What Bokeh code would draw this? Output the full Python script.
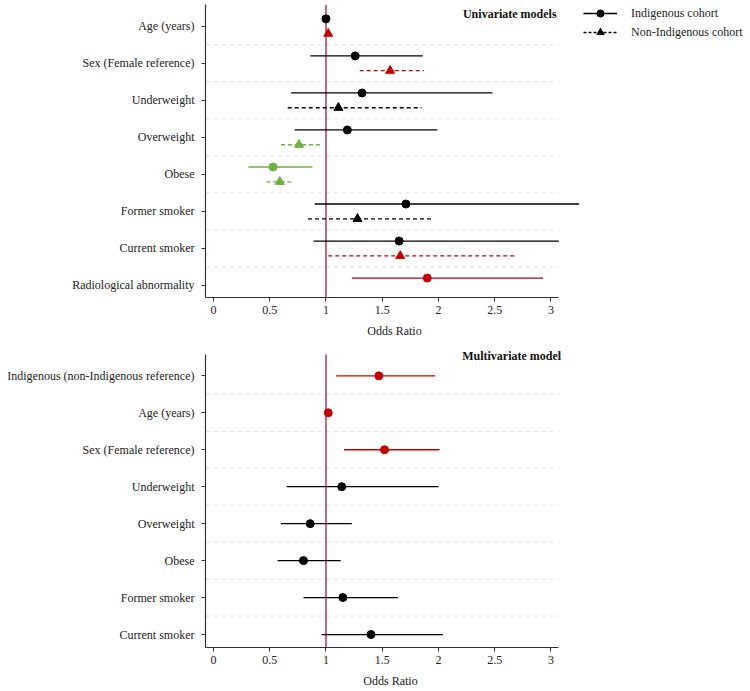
from bokeh.plotting import figure
from bokeh.models import (ColumnDataSource, FixedTicker, Legend, LegendItem, Label)
from bokeh.layouts import column
from bokeh.embed import file_html
from bokeh.resources import INLINE

# ---------------- data ----------------
uni_labels = ["Age (years)", "Sex (Female reference)", "Underweight", "Overweight",
              "Obese", "Former smoker", "Current smoker", "Radiological abnormality"]
# Indigenous cohort (univariate)
ind_or = [1.00, 1.26, 1.32, 1.19, 0.53, 1.71, 1.65, 1.90]
ind_lo = [0.99, 0.86, 0.69, 0.72, 0.31, 0.90, 0.89, 1.23]
ind_hi = [1.01, 1.86, 2.48, 1.99, 0.88, 3.25, 3.07, 2.93]
ind_col = ["black", "black", "black", "black", "green", "black", "black", "red"]
# Non-Indigenous cohort (univariate); Radiological abnormality not available
non_labels = ["Age (years)", "Sex (Female reference)", "Underweight", "Overweight",
              "Obese", "Former smoker", "Current smoker"]
non_or = [1.02, 1.57, 1.11, 0.76, 0.59, 1.28, 1.66]
non_lo = [1.01, 1.30, 0.66, 0.60, 0.47, 0.84, 1.02]
non_hi = [1.03, 1.87, 1.85, 0.96, 0.71, 1.94, 2.68]
non_col = ["red", "red", "black", "green", "green", "black", "red"]

multi_labels = ["Indigenous (non-Indigenous reference)", "Age (years)", "Sex (Female reference)",
                "Underweight", "Overweight", "Obese", "Former smoker", "Current smoker"]
multi_or = [1.47, 1.02, 1.52, 1.14, 0.86, 0.80, 1.15, 1.40]
multi_lo = [1.09, 1.01, 1.16, 0.65, 0.60, 0.57, 0.80, 0.96]
multi_hi = [1.97, 1.03, 2.01, 2.00, 1.23, 1.13, 1.64, 2.04]
multi_col = ["red", "red", "red", "black", "black", "black", "black", "black"]

x_ticks = [0, 0.5, 1, 1.5, 2, 2.5, 3]
x_tick_labels = {0: "0", 0.5: "0.5", 1: "1", 1.5: "1.5", 2: "2", 2.5: "2.5", 3: "3"}

# ---------------- style ----------------
FONT = "Liberation Serif"
PALETTE = {"black": "#000000", "red": "#c00000", "green": "#6db33f"}
REF_COLOR = "#b0103a"
SEP_COLOR = "#dddddd"
AXIS_COLOR = "#333333"
PX_PER_UNIT = 112.5
PX_PER_ROW = 37.0
X0 = -0.071
AXIS_END = 3.07
LEFT = 205


def style(p, labels, ybounds):
    n = len(labels)
    p.outline_line_color = None
    p.xgrid.visible = False
    p.ygrid.visible = False
    p.background_fill_color = "white"
    p.border_fill_color = "white"
    p.xaxis.ticker = FixedTicker(ticks=x_ticks)
    p.xaxis.major_label_overrides = x_tick_labels
    p.xaxis.bounds = (X0, AXIS_END)
    p.yaxis.bounds = ybounds
    p.xaxis.minor_tick_line_color = None
    p.xaxis.major_tick_in = 0
    p.xaxis.major_tick_out = 4
    p.xaxis.major_label_standoff = 4
    p.xaxis.axis_label = "Odds Ratio"
    p.xaxis.axis_label_standoff = 7
    p.xaxis.axis_label_text_font_style = "normal"
    p.yaxis.ticker = FixedTicker(ticks=list(range(1, n + 1)))
    p.yaxis.major_label_overrides = {n - i: lab for i, lab in enumerate(labels)}
    p.yaxis.minor_tick_line_color = None
    p.yaxis.major_tick_in = 0
    p.yaxis.major_tick_out = 4
    p.yaxis.major_label_standoff = 7
    for ax in (p.xaxis, p.yaxis):
        ax.axis_line_color = AXIS_COLOR
        ax.axis_line_width = 1.2
        ax.major_tick_line_color = AXIS_COLOR
        ax.major_label_text_font = FONT
        ax.major_label_text_font_size = "12px"
        ax.major_label_text_color = "#222222"
        ax.axis_label_text_font = FONT
        ax.axis_label_text_font_size = "12px"
        ax.axis_label_text_color = "#222222"
    # separators
    p.segment(x0=[X0] * (n - 1), x1=[AXIS_END] * (n - 1),
              y0=[k + 0.5 for k in range(1, n)], y1=[k + 0.5 for k in range(1, n)],
              line_color=SEP_COLOR, line_width=1, line_dash="4 4")
    # reference line at OR = 1, limited to the axis extent
    p.segment(x0=[1], x1=[1], y0=[ybounds[0]], y1=[ybounds[1]],
              line_color=REF_COLOR, line_width=1.3)


def series(labels_all, labels, orv, lo, hi, cols, offset):
    n = len(labels_all)
    ys = [n - labels_all.index(l) + offset for l in labels]
    return ColumnDataSource(dict(y=ys, orv=orv, lo=lo, hi=hi, c=[PALETTE[c] for c in cols]))


# ---------------- top figure ----------------
TOP_FW = 378
TOP_Y = (0.675, 8.588)
TOP_FH = round((TOP_Y[1] - TOP_Y[0]) * PX_PER_ROW)
p1 = figure(frame_width=TOP_FW, frame_height=TOP_FH, output_backend="svg", toolbar_location=None,
            x_range=(X0, X0 + TOP_FW / PX_PER_UNIT),
            y_range=TOP_Y,
            min_border_left=LEFT, min_border_right=0, min_border_top=4, min_border_bottom=48)
style(p1, uni_labels, TOP_Y)

s_ind = series(uni_labels, uni_labels, ind_or, ind_lo, ind_hi, ind_col, 0.2)
s_non = series(uni_labels, non_labels, non_or, non_lo, non_hi, non_col, -0.2)

p1.segment(x0="lo", x1="hi", y0="y", y1="y", source=s_ind, line_color="c", line_width=1.3)
p1.scatter(x="orv", y="y", source=s_ind, marker="circle", size=8, fill_color="c", line_color="c")
p1.segment(x0="lo", x1="hi", y0="y", y1="y", source=s_non, line_color="c", line_width=1.3,
           line_dash="4 3")
p1.scatter(x="orv", y="y", source=s_non, marker="triangle", size=9, fill_color="c", line_color="c")

# legend proxies (black)
lg1 = p1.line(x=[0], y=[-10], line_color="black", line_width=1.3)
lg2 = p1.scatter(x=[0], y=[-10], marker="circle", size=8, color="black")
lg3 = p1.line(x=[0], y=[-10], line_color="black", line_width=1.3, line_dash="3 2")
lg4 = p1.scatter(x=[0], y=[-10], marker="triangle", size=8, color="black")

legend = Legend(items=[LegendItem(label="Indigenous cohort", renderers=[lg1, lg2]),
                       LegendItem(label="Non-Indigenous cohort", renderers=[lg3, lg4])],
                location="top_left", orientation="vertical",
                glyph_width=34, glyph_height=18, label_height=18, spacing=1,
                label_standoff=14, padding=3, margin=0,
                border_line_color=None, background_fill_alpha=0,
                label_text_font=FONT, label_text_font_size="12px", label_text_color="#222222")
p1.add_layout(legend, "right")

p1.add_layout(Label(x=3.05, y=8.32, text="Univariate models", text_align="right",
                    text_baseline="middle", text_font=FONT, text_font_size="12px",
                    text_font_style="bold", text_color="#111111"))

# ---------------- bottom figure ----------------
BOT_FW = 370
BOT_Y = (0.649, 8.576)
BOT_TOP = 8.74
BOT_FH = round((BOT_TOP - BOT_Y[0]) * PX_PER_ROW)
p2 = figure(frame_width=BOT_FW, frame_height=BOT_FH, output_backend="svg", toolbar_location=None,
            x_range=(X0, X0 + BOT_FW / PX_PER_UNIT),
            y_range=(BOT_Y[0], BOT_TOP),
            min_border_left=LEFT, min_border_right=10, min_border_top=3, min_border_bottom=42)
style(p2, multi_labels, BOT_Y)
s_m = series(multi_labels, multi_labels, multi_or, multi_lo, multi_hi, multi_col, 0.0)
p2.segment(x0="lo", x1="hi", y0="y", y1="y", source=s_m, line_color="c", line_width=1.3)
p2.scatter(x="orv", y="y", source=s_m, marker="circle", size=8, fill_color="c", line_color="c")
p2.add_layout(Label(x=3.09, y=8.55, text="Multivariate model", text_align="right",
                    text_baseline="middle", text_font=FONT, text_font_size="12px",
                    text_font_style="bold", text_color="#111111"))

layout = column(p1, p2, spacing=0)
open("out.html", "w").write(file_html(layout, INLINE))
